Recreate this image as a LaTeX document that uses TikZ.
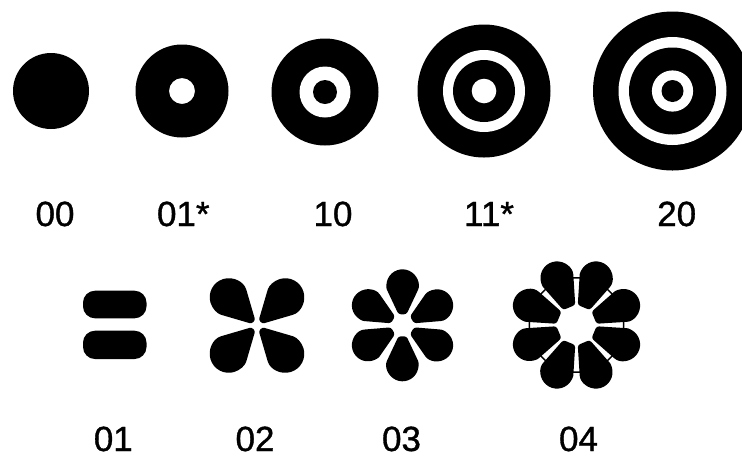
\documentclass[tikz,border=0pt]{standalone}
\usepackage{fontspec}
\setmainfont{Liberation Sans}
\newfontfamily\lblfont{Liberation Sans}[FakeBold=1.0]
\newcommand\mypetal[7]{%
  \pgfmathsetmacro\pg{asin((#7-#5)/(#6-#4))}%
  \begin{scope}[shift={(#1,#2)},rotate=#3]
    \fill[rounded corners=2.5] (#4,-#5) -- (#4,#5) -- ({#6+#7*cos(90+\pg)},{#7*sin(90+\pg)})
      arc[start angle=90+\pg, end angle=-90-\pg, radius=#7] -- cycle;
  \end{scope}}
\tikzset{lbl/.style={anchor=base, inner sep=0pt, font=\lblfont\fontsize{35}{42}\selectfont}}
\begin{document}
\begin{tikzpicture}[x=1pt,y=-1pt]
\useasboundingbox (0,0) rectangle (742,459);
\clip (0,0) rectangle (742,459);
% row 1 targets
\fill (51,91) circle[radius=38];
\fill[even odd rule] (182,91) circle[radius=46.5] (182,91) circle[radius=13];
\fill (325,92) circle[radius=53.5];
\fill[white] (325,92) circle[radius=25.5];
\fill (325,92) circle[radius=12];
\fill (484,91) circle[radius=66.5];
\fill[white] (484,91) circle[radius=41];
\fill (484,91) circle[radius=31];
\fill[white] (484,91) circle[radius=12.3];
\fill (672.5,91) circle[radius=79.5];
\fill[white] (672.5,91) circle[radius=54];
\fill (672.5,91) circle[radius=43.5];
\fill[white] (672.5,91) circle[radius=20.6];
\fill (672.5,91) circle[radius=11];
% row 1 labels
\node[lbl] (t00) at (55,226) {00};
\node[lbl] (t01s) at (183.3,226) {01*};
\node[lbl] (t10) at (333,226) {10};
\node[lbl] (t11s) at (489,226) {11*};
\node[lbl] (t20) at (676.7,226) {20};
% row 2: 01 bars
\fill[rounded corners=12] (83,290.7) rectangle (146.5,318.3);
\fill[rounded corners=12] (83,330.7) rectangle (146.5,359);
% 02
\foreach \a in {45,135,225,315} {\mypetal{257}{325.5}{\a}{5}{2.5}{40}{19}}
% 03
\foreach \a in {30,90,150,210,270,330} {\mypetal{402.5}{325.3}{\a}{11}{4}{40}{16}}
% 04
\draw[line width=1.5] (576.5,325) +(22.5:51) -- +(67.5:51) -- +(112.5:51) -- +(157.5:51)
  -- +(202.5:51) -- +(247.5:51) -- +(292.5:51) -- +(337.5:51) -- cycle;
\foreach \a in {22.5,67.5,112.5,157.5,202.5,247.5,292.5,337.5} {\mypetal{576.5}{325}{\a}{19}{6.5}{51}{16.5}}
% row 2 labels
\node[lbl] (t01) at (113.3,451) {01};
\node[lbl] (t02) at (255,451) {02};
\node[lbl] (t03) at (401.5,451) {03};
\node[lbl] (t04) at (578.5,451) {04};
\end{tikzpicture}
\end{document}
